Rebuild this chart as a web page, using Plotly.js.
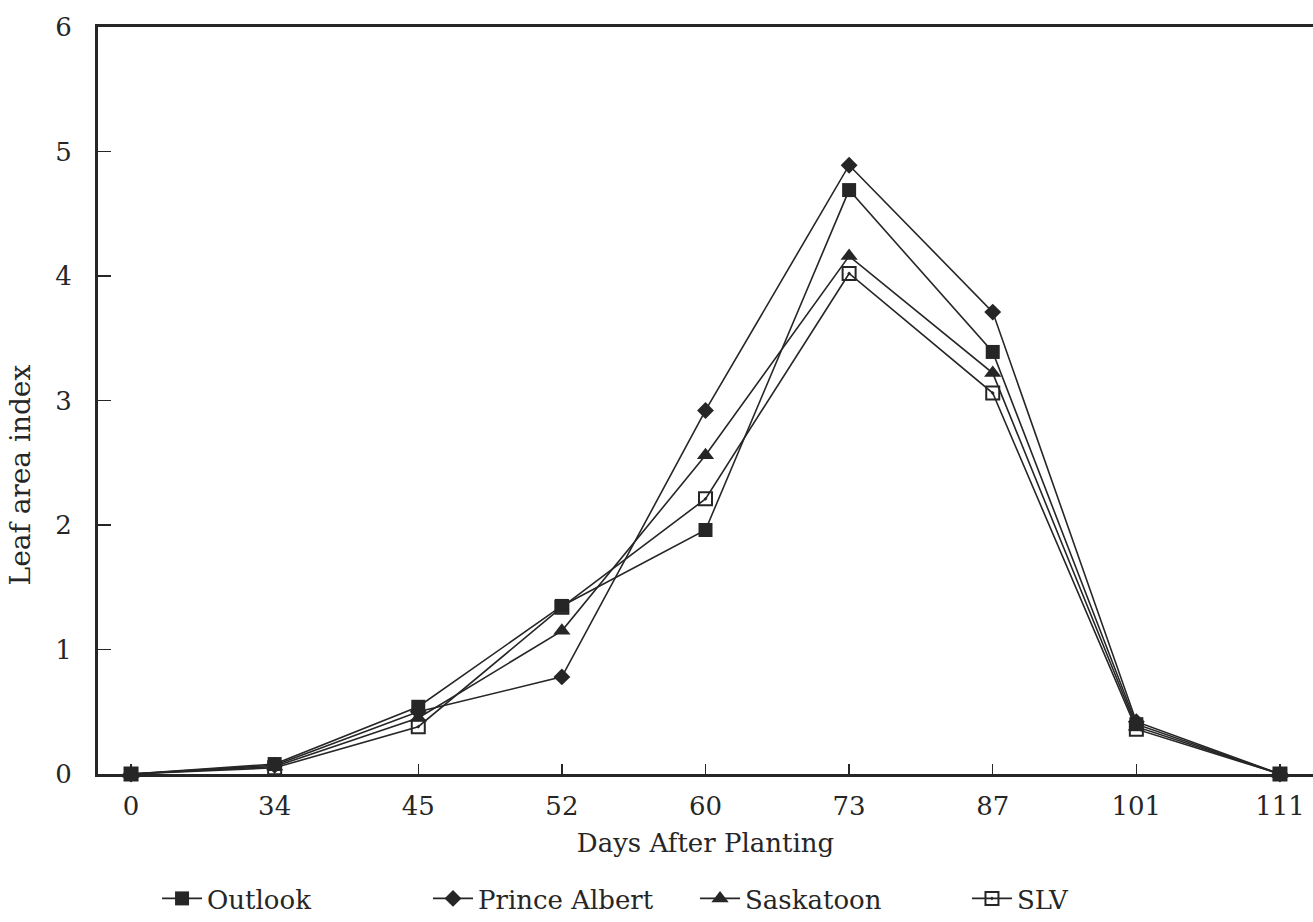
<!DOCTYPE html>
<html>
<head>
<meta charset="utf-8">
<script src="https://cdn.plot.ly/plotly-3.0.1.min.js"></script>
<style>html,body{margin:0;padding:0;background:#fff}#chart{width:1313px;height:922px}</style>
</head>
<body>
<div id="chart"></div>
<script>
const days = ["0", "34", "45", "52", "60", "73", "87", "101", "111"];
const outlook = [0, 0.08, 0.54, 1.35, 1.96, 4.69, 3.39, 0.40, 0];
const princeAlbert = [0, 0.07, 0.50, 0.78, 2.92, 4.89, 3.71, 0.42, 0];
const saskatoon = [0, 0.06, 0.45, 1.15, 2.56, 4.16, 3.22, 0.38, 0];
const slv = [0, 0.05, 0.38, 1.34, 2.21, 4.02, 3.06, 0.36, 0];
const yTicks = [0, 1, 2, 3, 4, 5, 6];

const ink = '#262626';
const font = 'DejaVu Serif';
const fs = 26;

function tr(name, y, symbol, size, legend) {
  return {
    x: days, y: y, name: name, type: 'scatter', mode: 'lines+markers',
    line: {color: ink, width: 1.6},
    marker: {symbol: symbol, size: size, color: ink, line: {color: ink, width: symbol.indexOf('open') >= 0 ? 2 : 0}},
    legend: legend, cliponaxis: false
  };
}
const data = [
  tr('SLV', slv, 'square-open-dot', 13, 'legend4'),
  tr('Saskatoon', saskatoon, 'triangle-up', 15, 'legend3'),
  tr('Prince Albert', princeAlbert, 'diamond', 13, 'legend2'),
  tr('Outlook', outlook, 'square', 14, 'legend')
];

function leg(x) {
  return {x: x, y: -0.166, xanchor: 'left', yanchor: 'middle', orientation: 'h',
    font: {family: font, size: fs, color: ink}, bgcolor: 'rgba(0,0,0,0)', itemwidth: 40};
}

const layout = {
  width: 1313, height: 922,
  font: {family: font, size: fs, color: ink},
  margin: {l: 98, r: 0, t: 27, b: 147},
  paper_bgcolor: '#fff', plot_bgcolor: '#fff',
  showlegend: true,
  legend: leg(0.0486),
  legend2: leg(0.2716),
  legend3: leg(0.4914),
  legend4: leg(0.7152),
  xaxis: {
    type: 'category', categoryorder: 'array', categoryarray: days,
    range: [-0.23, 8.23],
    showline: true, linecolor: ink, linewidth: 3, mirror: true,
    ticks: 'inside', ticklen: 10, tickwidth: 1.5, tickcolor: ink,
    showgrid: false, zeroline: false,
    tickfont: {family: font, size: fs, color: ink},
    ticklabelstandoff: 7,
    title: {text: 'Days After Planting', font: {family: font, size: fs, color: ink}, standoff: 14}
  },
  yaxis: {
    range: [0, 6], tickvals: yTicks,
    showline: true, linecolor: ink, linewidth: 3, mirror: false,
    ticks: 'inside', ticklen: 13, tickwidth: 1.5, tickcolor: ink,
    showgrid: false, zeroline: false,
    tickfont: {family: font, size: fs, color: ink},
    ticklabelstandoff: 18
  },
  annotations: [{
    text: 'Leaf area index', textangle: -90, xref: 'paper', yref: 'paper',
    x: -0.064, y: 0.40, xanchor: 'center', yanchor: 'middle', showarrow: false,
    font: {family: font, size: 28, color: ink}
  }]
};
Plotly.newPlot('chart', data, layout, {displayModeBar: false, staticPlot: true});
</script>
</body>
</html>
